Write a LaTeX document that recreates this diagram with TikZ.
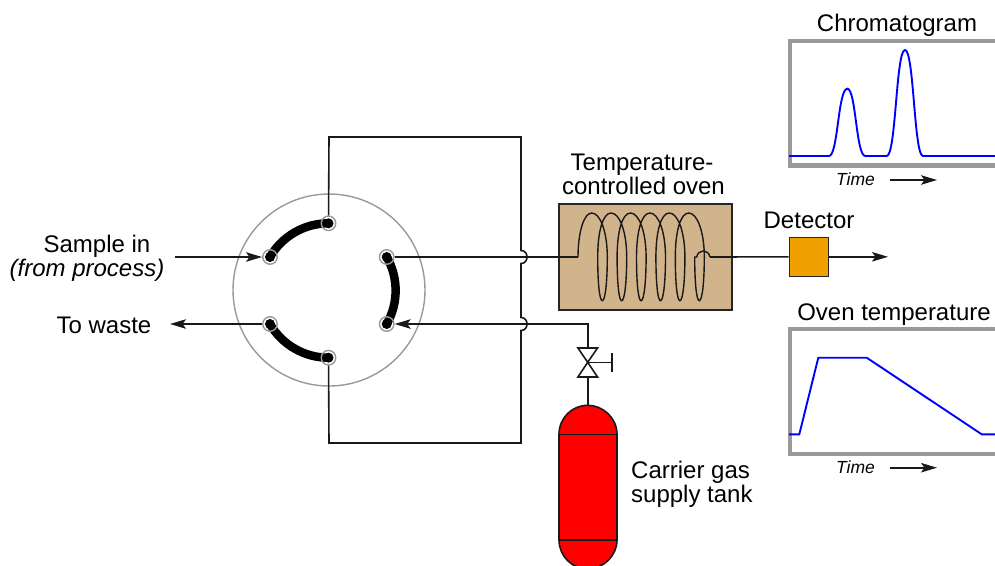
\documentclass[tikz,border=0pt]{standalone}
\usepackage{fontspec}
\setmainfont{Liberation Sans}
\usetikzlibrary{arrows.meta}
\tikzset{
  x=1pt,y=-1pt,
  wire/.style={line width=1.6pt,draw=black!90},
  flow/.style={wire,-{Stealth[length=16pt,width=9.5pt,inset=3.5pt]}},
  port/.style={circle,draw=black!40,line width=1.4pt,minimum size=14.5pt,inner sep=0pt},
  slot/.style={line width=8.5pt,line cap=round},
  frame/.style={draw=black!40,line width=4.2pt},
  trace/.style={draw=blue,line width=1.9pt},
  big/.style={font=\fontsize{24}{27}\selectfont,anchor=base,inner sep=0pt},
  small/.style={font=\itshape\fontsize{17.5}{20}\selectfont,anchor=base,inner sep=0pt},
}
\begin{document}
\begin{tikzpicture}
\useasboundingbox (0,0) rectangle (995,565);
% valve body
\coordinate (c) at (329,290);
\coordinate (T) at (328.5,223.3);
\coordinate (LU) at (270,257);
\coordinate (RU) at (386.7,257);
\coordinate (RL) at (386.7,324);
\coordinate (LL) at (270,324);
\coordinate (B) at (328.5,357.7);
\node[circle,draw=black!40,line width=1.4pt,minimum size=192pt,inner sep=0pt] (body) at (c) {};
\foreach \p in {T,LU,RU,RL,LL,B} \fill (\p) circle (5);
\draw[slot] (T) to[bend right=30,looseness=.91] (LU);
\draw[slot] (RU) to[bend left=30,looseness=.91] (RL);
\draw[slot] (LL) to[bend right=30,looseness=.91] (B);
\foreach \p in {T,LU,RU,RL,LL,B} \node[port] (p\p) at (\p) {};
% oven
\node[rectangle,draw=black!85,line width=1.6pt,fill={rgb,255:red,210;green,180;blue,140},minimum width=173pt,minimum height=106pt,inner sep=0pt] (oven) at (645.5,257) {};
\coordinate (coilin) at (578,257);
\coordinate (coilout) at (710,257);
\draw[line width=1.4pt,draw=black!90] (coilin) .. controls (578,232) and (584,213) .. (591.7,213)
 \foreach \i in {0,...,5} {
   \pgfextra{\pgfmathsetmacro{\xt}{591.7+19.4*\i}\pgfmathsetmacro{\xa}{\xt+8.6}\pgfmathsetmacro{\xb}{\xt+15.6}\pgfmathsetmacro{\xc}{\xt+13.5}\pgfmathsetmacro{\xd}{\xt+10.6}\pgfmathsetmacro{\xe}{\xt+7.7}\pgfmathsetmacro{\xf}{\xt+6}\pgfmathsetmacro{\xg}{\xt+11}\pgfmathsetmacro{\xh}{\xt+19.4}}
   .. controls (\xa,213) and (\xb,232) .. (\xb,257)
   .. controls (\xb,282) and (\xc,300.7) .. (\xd,300.7)
   .. controls (\xe,300.7) and (\xf,282) .. (\xf,257)
   \ifnum\i<5 .. controls (\xf,232) and (\xg,213) .. (\xh,213) \fi
 }
 -- (696.7,257) .. controls (698,249) and (708.5,249) .. (coilout);
% wires
\draw[wire] (pT) -- (329,137) -- (521,137) -- (521,250.5)
  .. controls (529,250.5) and (529,263.5) .. (521,263.5) -- (521,317.5)
  .. controls (529,317.5) and (529,330.5) .. (521,330.5) -- (521,443) -- (329,443) -- (pB);
\coordinate (insrc) at (175,257);
\coordinate (wasteend) at (170,324);
\coordinate (det) at (888,256.8);
\coordinate (corner) at (587.7,324);
\draw[flow] (insrc) -- (pLU);
\draw[flow] (pLL) -- (wasteend);
\draw[wire] (pRU) -- (coilin);
\node[rectangle,draw=black!85,line width=1.4pt,fill={rgb,255:red,240;green,160;blue,0},minimum width=39pt,minimum height=39pt,inner sep=0pt] (detector) at (808.8,256.8) {};
\draw[wire] (coilout) -- (detector);
\draw[flow] (detector) -- (det);
% hand valve
\coordinate (vtop) at (587.7,348);
\coordinate (vmid) at (587.7,362.3);
\coordinate (vbot) at (587.7,377);
\coordinate (tanktop) at (587.7,405.3);
\draw[flow] (vtop) -- (corner) -- (pRL);
\draw[wire,line join=miter] (vtop) ++(-9.8,0) -- ++(19.6,0) -- (vmid) -- ++(-9.8,14.7) -- ++(19.6,0) -- (vmid) -- cycle;
\draw[wire] (vmid) -- (612,362.3) (612,352.5) -- (612,372);
% tank
\draw[wire,fill=red] (559,434.3) .. controls (559,418) and (572,405.3) .. (tanktop)
  .. controls (603,405.3) and (617,418) .. (617,434.3) -- (617,540)
  .. controls (617,556) and (603,569) .. (587.7,569)
  .. controls (572,569) and (559,556) .. (559,540) -- cycle;
\draw[wire] (559,434.3) -- (617,434.3) (559,540) -- (617,540);
\draw[wire] (vbot) -- (tanktop);
% charts
\draw[frame] (997,41) -- (790,41) -- (790,165.5) -- (997,165.5);
\draw[trace] (789,156) -- (829,156) .. controls (838,156) and (838,88.7) .. (847.3,88.7)
  .. controls (856,88.7) and (856,156) .. (865.3,156) -- (886.7,156)
  .. controls (896,156) and (896,50) .. (905,50)
  .. controls (914,50) and (914,156) .. (923,156) -- (995,156);
\draw[frame] (997,329) -- (790,329) -- (790,453.7) -- (997,453.7);
\draw[trace] (789,434.3) -- (799.3,434.3) -- (818.3,357.7) -- (866.7,357.7) -- (981.7,434.3) -- (995,434.3);
\coordinate (a1) at (890,180); \coordinate (a2) at (937,180);
\coordinate (b1) at (890,467.7); \coordinate (b2) at (937,467.7);
\draw[flow] (a1) -- (a2);
\draw[flow] (b1) -- (b2);
% labels
\node[big] (l1) at (897,31) {Chromatogram};
\node[big] (l2) at (894,320) {Oven temperature};
\node[big] (l3) at (809,228) {Detector};
\node[big] (l4) at (642,170) {Temperature-};
\node[big] (l5) at (643.5,194.5) {controlled oven};
\node[big,anchor=base east] (l6) at (150.5,252) {Sample in};
\node[big,anchor=base east] (l7) at (164.5,276) {\itshape (from process)};
\node[big,anchor=base east] (l8) at (151.5,333.5) {To waste};
\node[big,anchor=base west] (l9) at (631,478) {Carrier gas};
\node[big,anchor=base west] (l10) at (631,502) {supply tank};
\node[small] (t1) at (855.5,185) {Time};
\node[small] (t2) at (855.5,473) {Time};
\end{tikzpicture}
\end{document}
